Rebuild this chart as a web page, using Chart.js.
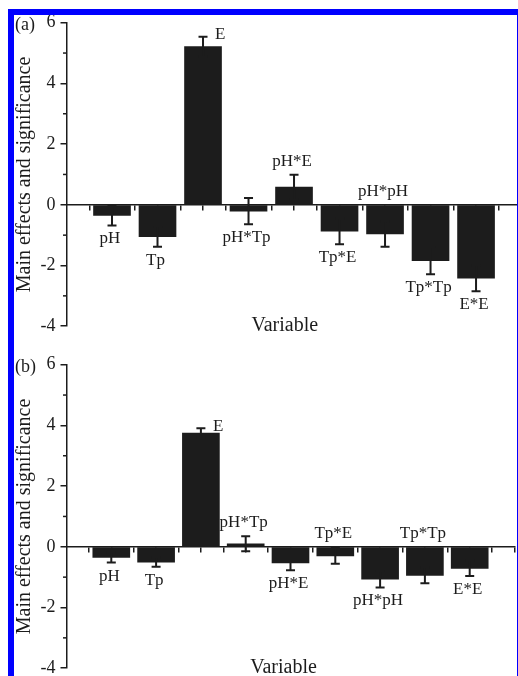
<!DOCTYPE html>
<html>
<head>
<meta charset="utf-8">
<script src="https://cdn.jsdelivr.net/npm/chart.js@4.4.0/dist/chart.umd.min.js"></script>
<style>
  html, body { margin: 0; padding: 0; background: #fff; }
  body { width: 518px; height: 676px; overflow: hidden; position: relative; }
  canvas { position: absolute; left: 0; }
  #chartA { top: 0; }
  #chartB { top: 342px; }
  .frame { position: absolute; background: #0000ff; z-index: 2; }
</style>
</head>
<body>
<canvas id="chartA" width="518" height="342"></canvas>
<canvas id="chartB" width="518" height="342"></canvas>
<div class="frame" style="left:8px;top:9px;width:510px;height:6px"></div>
<div class="frame" style="left:8px;top:9px;width:6px;height:667px"></div>
<div class="frame" style="left:516.5px;top:9px;width:1.5px;height:667px"></div>
<script>
// variables (same order in both panels)
const categories = ["pH", "Tp", "E", "pH*Tp", "pH*E", "Tp*E", "pH*pH", "Tp*Tp", "E*E"];

// panel (a)
const effectsA = [-0.35, -1.05, 5.21, -0.21, 0.58, -0.87, -0.96, -1.84, -2.42];
const errorsA = [0.33, 0.33, 0.33, 0.43, 0.41, 0.43, 0.42, 0.45, 0.43];

// panel (b)
const effectsB = [-0.35, -0.51, 3.75, 0.10, -0.53, -0.30, -1.07, -0.94, -0.71];
const errorsB = [0.17, 0.15, 0.16, 0.25, 0.24, 0.26, 0.27, 0.26, 0.25];

const yTicks = [-4, -2, 0, 2, 4, 6];
const yTitle = "Main effects and significance";
const xTitle = "Variable";

const ink = "#1c1c1c";
const serif = '"Liberation Serif", "Times New Roman", serif';

const annotate = {
  id: "annotate",
  beforeDatasetsDraw(chart) {
    // short minor ticks on the y axis
    const y = chart.scales.y;
    const left = chart.chartArea.left;
    const ctx = chart.ctx;
    ctx.save();
    ctx.strokeStyle = ink;
    ctx.lineWidth = 1.5;
    y.ticks.forEach((t) => {
      if (yTicks.includes(t.value)) return;
      const py = y.getPixelForValue(t.value);
      ctx.beginPath();
      ctx.moveTo(left - 3.5, py);
      ctx.lineTo(left, py);
      ctx.stroke();
    });
    ctx.restore();
  },
  afterDatasetsDraw(chart, args, opts) {
    const ctx = chart.ctx;
    const y = chart.scales.y;
    const area = chart.chartArea;
    const meta = chart.getDatasetMeta(0);
    const values = chart.data.datasets[0].data;
    const zero = y.getPixelForValue(0);
    ctx.save();
    ctx.strokeStyle = ink;
    ctx.fillStyle = ink;
    ctx.lineWidth = 2;
    meta.data.forEach((bar, i) => {
      const v = values[i].y;
      const hi = y.getPixelForValue(v + opts.errors[i]);
      const lo = y.getPixelForValue(v - opts.errors[i]);
      ctx.beginPath();
      ctx.moveTo(bar.x, hi);
      ctx.lineTo(bar.x, lo);
      ctx.moveTo(bar.x - 4.5, hi);
      ctx.lineTo(bar.x + 4.5, hi);
      ctx.moveTo(bar.x - 4.5, lo);
      ctx.lineTo(bar.x + 4.5, lo);
      ctx.stroke();

      ctx.font = "17px " + serif;
      const where = opts.place[i];
      if (where === "right") {
        ctx.textAlign = "left";
        ctx.textBaseline = "middle";
        ctx.fillText(categories[i], bar.x + 12, hi - 2);
      } else if (where === "above") {
        ctx.textAlign = "center";
        ctx.textBaseline = "bottom";
        ctx.fillText(categories[i], bar.x - 2, Math.min(hi, zero) - 5);
      } else {
        ctx.textAlign = "center";
        ctx.textBaseline = "top";
        ctx.fillText(categories[i], bar.x - 2, Math.max(lo, zero) + 5);
      }
    });

    ctx.textBaseline = "alphabetic";
    ctx.textAlign = "left";
    ctx.font = "18px " + serif;
    ctx.fillText(opts.panel, area.left - 51.5, area.top + 7.5);

    ctx.textAlign = "center";
    ctx.font = "20px " + serif;
    ctx.fillText(xTitle, (area.left + area.right) / 2 - 7, area.bottom + 4.7);
    ctx.restore();
  },
};

function makePanel(id, effects, errors, place, panel, xMax, padRight) {
  const ctx = document.getElementById(id).getContext("2d");
  return new Chart(ctx, {
    type: "bar",
    data: {
      datasets: [
        {
          data: categories.map((c, i) => ({ x: i, y: effects[i] })),
          backgroundColor: ink,
          borderWidth: 0,
          barThickness: 37,
        },
      ],
    },
    options: {
      responsive: false,
      animation: false,
      layout: { padding: { top: 22.7, bottom: 13.5, left: 0, right: padRight } },
      plugins: {
        legend: { display: false },
        tooltip: { enabled: false },
        annotate: { errors: errors, place: place, panel: panel },
      },
      scales: {
        x: {
          type: "linear",
          position: { y: 0 },
          offset: false,
          min: -1,
          max: xMax,
          ticks: { display: false },
          afterBuildTicks: (s) => {
            const t = [];
            categories.forEach((c, i) => t.push(i - 0.5, i));
            t.push(categories.length - 0.5, categories.length);
            s.ticks = t.filter((v) => v <= xMax).map((v) => ({ value: v }));
          },
          afterFit: (s) => {
            s.height = 0;
          },
          grid: {
            offset: false,
            drawOnChartArea: false,
            drawTicks: true,
            tickLength: 5,
            color: ink,
            lineWidth: 1.5,
          },
          border: { display: true, color: ink, width: 1.5 },
        },
        y: {
          min: -4,
          max: 6,
          afterFit: (s) => {
            s.width = 66.5;
          },
          ticks: {
            stepSize: 1,
            padding: 5,
            color: ink,
            font: { family: serif, size: 18 },
            callback: (v) => (yTicks.includes(v) ? String(v) : ""),
          },
          grid: {
            drawOnChartArea: false,
            tickLength: 6,
            lineWidth: 1.5,
            tickColor: (c) =>
              c.tick && yTicks.includes(c.tick.value) ? ink : "rgba(0,0,0,0)",
          },
          border: { display: true, color: ink, width: 1.5 },
          title: {
            display: true,
            text: yTitle,
            color: ink,
            font: { family: serif, size: 20 },
            padding: { top: 13, bottom: 0 },
          },
        },
      },
    },
    plugins: [annotate],
  });
}

makePanel(
  "chartA",
  effectsA,
  errorsA,
  ["below", "below", "right", "below", "above", "below", "above", "below", "below"],
  "(a)",
  8.9,
  1
);
makePanel(
  "chartB",
  effectsB,
  errorsB,
  ["below", "below", "right", "above", "below", "above", "below", "above", "below"],
  "(b)",
  9,
  3.5
);
</script>
</body>
</html>
